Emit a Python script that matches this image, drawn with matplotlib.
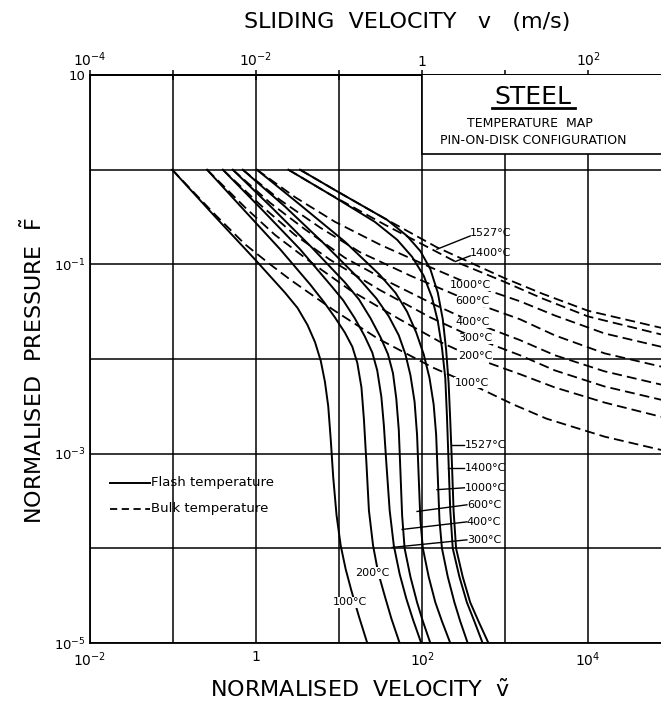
import numpy as np
import matplotlib.pyplot as plt
from matplotlib.patches import Rectangle
from matplotlib.ticker import NullLocator, FixedLocator, FixedFormatter

# values, as (log10 v~, log10 F~) pairs
temps = [100, 200, 300, 400, 600, 1000, 1400, 1527]

flash_100 = [(-1.01, 0.0), (-0.51, -0.48), (0.0, -0.96), (0.35, -1.30), (0.50, -1.46),
             (0.62, -1.64), (0.71, -1.82), (0.78, -2.02), (0.83, -2.24), (0.87, -2.50),
             (0.90, -2.85), (0.93, -3.25), (0.97, -3.65), (1.02, -3.97), (1.08, -4.22),
             (1.15, -4.45), (1.24, -4.72), (1.34, -5.0)]
flash_200 = [(-0.59, 0.0), (-0.13, -0.44), (0.29, -0.84), (0.65, -1.21), (0.82, -1.40),
             (0.95, -1.56), (1.07, -1.72), (1.16, -1.87), (1.22, -2.04), (1.27, -2.30),
             (1.30, -2.64), (1.33, -3.10), (1.36, -3.60), (1.41, -3.97), (1.47, -4.25),
             (1.55, -4.50), (1.63, -4.74), (1.73, -5.0)]
flash_300 = [(-0.40, 0.0), (0.07, -0.42), (0.53, -0.84), (0.89, -1.21), (1.05, -1.38),
             (1.19, -1.57), (1.31, -1.76), (1.40, -1.93), (1.46, -2.12), (1.51, -2.40),
             (1.54, -2.70), (1.57, -3.10), (1.61, -3.60), (1.66, -3.97), (1.73, -4.27),
             (1.81, -4.53), (1.89, -4.75), (1.99, -5.0)]
flash_400 = [(-0.28, 0.0), (0.19, -0.40), (0.67, -0.82), (1.07, -1.19), (1.24, -1.37),
             (1.38, -1.57), (1.50, -1.77), (1.59, -1.95), (1.65, -2.15), (1.69, -2.42),
             (1.72, -2.75), (1.74, -3.20), (1.76, -3.65), (1.79, -4.00), (1.86, -4.30),
             (1.94, -4.57), (2.01, -4.77), (2.10, -5.0)]
flash_600 = [(-0.16, 0.0), (0.35, -0.39), (0.83, -0.79), (1.25, -1.16), (1.45, -1.36),
             (1.60, -1.55), (1.72, -1.75), (1.80, -1.95), (1.86, -2.17), (1.91, -2.45),
             (1.94, -2.80), (1.96, -3.25), (1.98, -3.70), (2.01, -4.00), (2.08, -4.30),
             (2.16, -4.57), (2.24, -4.77), (2.34, -5.0)]
flash_1000 = [(0.01, 0.0), (0.53, -0.37), (1.07, -0.76), (1.49, -1.11), (1.68, -1.30),
              (1.82, -1.50), (1.93, -1.72), (2.02, -1.95), (2.09, -2.20), (2.14, -2.48),
              (2.17, -2.80), (2.19, -3.25), (2.21, -3.70), (2.24, -4.00), (2.31, -4.30),
              (2.39, -4.57), (2.46, -4.77), (2.55, -5.0)]
flash_1400 = [(0.39, 0.0), (0.89, -0.26), (1.43, -0.55), (1.70, -0.74), (1.88, -0.92),
              (2.02, -1.12), (2.12, -1.35), (2.19, -1.60), (2.24, -1.88), (2.28, -2.20),
              (2.30, -2.60), (2.32, -3.10), (2.34, -3.60), (2.37, -4.00), (2.45, -4.30),
              (2.54, -4.57), (2.63, -4.77), (2.73, -5.0)]
flash_1527 = [(0.53, 0.0), (0.98, -0.23), (1.58, -0.53), (1.82, -0.70), (1.98, -0.86),
              (2.10, -1.05), (2.19, -1.30), (2.25, -1.58), (2.29, -1.90), (2.32, -2.25),
              (2.34, -2.65), (2.36, -3.10), (2.38, -3.60), (2.41, -4.00), (2.49, -4.30),
              (2.58, -4.57), (2.68, -4.77), (2.80, -5.0)]

bulk_100 = [(-1.01, 0.0), (-0.51, -0.46), (-0.13, -0.79), (0.17, -1.00), (0.41, -1.16),
            (0.93, -1.48), (1.46, -1.78), (2.13, -2.09), (2.60, -2.27), (3.10, -2.48),
            (3.50, -2.63), (4.20, -2.82), (4.88, -2.96)]
bulk_200 = [(-0.59, 0.0), (-0.13, -0.40), (0.23, -0.69), (0.65, -0.97), (1.13, -1.27),
            (1.73, -1.58), (2.22, -1.82), (2.64, -1.99), (3.18, -2.16), (3.60, -2.30),
            (4.20, -2.46), (4.88, -2.61)]
bulk_300 = [(-0.40, 0.0), (0.05, -0.37), (0.47, -0.69), (0.89, -0.95), (1.49, -1.27),
            (2.10, -1.56), (2.64, -1.78), (3.18, -1.96), (3.60, -2.12), (4.20, -2.29),
            (4.88, -2.43)]
bulk_400 = [(-0.28, 0.0), (0.17, -0.35), (0.59, -0.63), (1.07, -0.93), (1.61, -1.19),
            (2.16, -1.43), (2.61, -1.61), (3.18, -1.80), (3.60, -1.96), (4.20, -2.13),
            (4.88, -2.27)]
bulk_600 = [(-0.16, 0.0), (0.29, -0.32), (0.77, -0.61), (1.25, -0.87), (1.86, -1.12),
            (2.61, -1.40), (3.18, -1.58), (3.60, -1.75), (4.20, -1.94), (4.88, -2.08)]
bulk_1000 = [(0.01, 0.0), (0.47, -0.29), (0.95, -0.55), (1.49, -0.79), (2.10, -1.03),
             (2.58, -1.21), (3.18, -1.39), (3.60, -1.54), (4.20, -1.73), (4.88, -1.87)]
bulk_1400 = [(0.39, 0.0), (0.89, -0.26), (1.55, -0.58), (2.40, -0.97), (2.98, -1.18),
             (3.45, -1.36), (4.00, -1.55), (4.88, -1.74)]
bulk_1527 = [(0.53, 0.0), (0.98, -0.23), (1.58, -0.53), (2.18, -0.82), (2.98, -1.14),
             (3.45, -1.31), (4.00, -1.49), (4.88, -1.67)]

x_decades = [-2, -1, 0, 1, 2, 3, 4, 5]
x_labels = ["$10^{-2}$", "", "1", "", "$10^{2}$", "", "$10^{4}$", ""]
v_decades = [-4, -3, -2, -1, 0, 1, 2, 3]
v_labels = ["$10^{-4}$", "", "$10^{-2}$", "", "1", "", "$10^{2}$", ""]
y_decades = [-5, -4, -3, -2, -1, 0, 1]
y_labels = ["$10^{-5}$", "", "$10^{-3}$", "", "$10^{-1}$", "", "10"]

flash = [flash_100, flash_200, flash_300, flash_400, flash_600, flash_1000, flash_1400, flash_1527]
bulk = [bulk_100, bulk_200, bulk_300, bulk_400, bulk_600, bulk_1000, bulk_1400, bulk_1527]

plt.rcParams['font.family'] = 'DejaVu Sans'
plt.rcParams['mathtext.fontset'] = 'dejavusans'

fig = plt.figure(figsize=(6.61, 7.04), dpi=100)
ax = fig.add_axes([0.1362, 0.0866, 0.879, 0.8068])
ax.set_xscale('log')
ax.set_yscale('log')
ax.set_xlim(1e-2, 1e5)
ax.set_ylim(1e-5, 1e1)

dash = (0, (5.5, 2.8))
for pts in flash:
    lv, lf = np.array(pts).T
    ax.plot(10**lv, 10**lf, color='k', lw=1.4, zorder=2)
for pts in bulk:
    lv, lf = np.array(pts).T
    ax.plot(10**lv, 10**lf, color='k', lw=1.3, linestyle=dash, zorder=2)

# grid and ticks
ax.xaxis.set_major_locator(FixedLocator([10.0**d for d in x_decades]))
ax.xaxis.set_major_formatter(FixedFormatter(x_labels))
ax.yaxis.set_major_locator(FixedLocator([10.0**d for d in y_decades]))
ax.yaxis.set_major_formatter(FixedFormatter(y_labels))
ax.xaxis.set_minor_locator(NullLocator())
ax.yaxis.set_minor_locator(NullLocator())
ax.tick_params(axis='x', length=0, labelsize=10, pad=5)
ax.tick_params(axis='y', length=0, labelsize=9.5, pad=3)
ax.grid(True, color='k', lw=1.1)
ax.set_axisbelow(True)
for s in ax.spines.values():
    s.set_linewidth(1.3)

sec = ax.secondary_xaxis('top', functions=(lambda x: x / 100.0, lambda v: v * 100.0))
sec.xaxis.set_major_locator(FixedLocator([10.0**d for d in v_decades]))
sec.xaxis.set_major_formatter(FixedFormatter(v_labels))
sec.xaxis.set_minor_locator(NullLocator())
sec.tick_params(direction='inout', length=7, width=1.1, labelsize=10, pad=1)
sec.spines['top'].set_linewidth(1.3)

# title box, top right
ax.add_patch(Rectangle((100, 1.47), 1e6, 20, facecolor='white', edgecolor='k',
                       lw=1.2, zorder=3))
ax.text(0.762, 0.961, "STEEL", transform=ax.transAxes, ha='center', va='center',
        fontsize=18, zorder=4)
ax.plot([0.692, 0.835], [0.942, 0.942], transform=ax.transAxes, color='k', lw=2, zorder=4)
ax.text(0.757, 0.915, "TEMPERATURE  MAP", transform=ax.transAxes, ha='center',
        va='center', fontsize=9, zorder=4)
ax.text(0.762, 0.884, "PIN-ON-DISK CONFIGURATION", transform=ax.transAxes,
        ha='center', va='center', fontsize=9, zorder=4)

# legend
ax.plot([0.034, 0.103], [0.282, 0.282], transform=ax.transAxes, color='k', lw=1.4)
ax.text(0.105, 0.282, "Flash temperature", transform=ax.transAxes, va='center', fontsize=9.5)
ax.plot([0.034, 0.103], [0.236, 0.236], transform=ax.transAxes, color='k', lw=1.3,
        linestyle=(0, (4, 2.5)))
ax.text(0.105, 0.236, "Bulk temperature", transform=ax.transAxes, va='center', fontsize=9.5)

box = dict(facecolor='white', edgecolor='none', pad=0.4)
lab = lambda t: f"{t}°C"

# bulk labels sitting on the dashed curves
bulk_lab_pos = {1000: (2.58, -1.22), 600: (2.61, -1.39), 400: (2.61, -1.61),
                300: (2.64, -1.78), 200: (2.64, -1.97), 100: (2.60, -2.25)}
for t, (lx, ly) in bulk_lab_pos.items():
    ax.text(10**lx, 10**ly, lab(t), ha='center', va='center', fontsize=8,
            bbox=box, zorder=4)
bulk_leaders = {1527: ((2.18, -0.84), (2.58, -0.67)), 1400: ((2.40, -0.97), (2.58, -0.88))}
for t, ((x0, y0), (x1, y1)) in bulk_leaders.items():
    ax.plot([10**x0, 10**x1], [10**y0, 10**(y1 - 0.03)], color='k', lw=1, zorder=4)
    ax.text(10**x1, 10**y1, lab(t), ha='left', va='center', fontsize=8, zorder=4)

# flash labels with leaders
flash_leaders = {1527: ((2.36, -2.91), (2.51, -2.91)), 1400: ((2.31, -3.15), (2.51, -3.15)),
                 1000: ((2.18, -3.38), (2.51, -3.36)), 600: ((1.94, -3.61), (2.54, -3.54)),
                 400: ((1.76, -3.80), (2.54, -3.72)), 300: ((1.64, -3.99), (2.54, -3.91))}
for t, ((x0, y0), (x1, y1)) in flash_leaders.items():
    ax.plot([10**x0, 10**x1], [10**y0, 10**y1], color='k', lw=1, zorder=4)
    ax.text(10**x1, 10**y1, lab(t), ha='left', va='center', fontsize=8, zorder=4)
flash_lab_pos = {200: (1.40, -4.26), 100: (1.13, -4.57)}
for t, (lx, ly) in flash_lab_pos.items():
    ax.text(10**lx, 10**ly, lab(t), ha='center', va='center', fontsize=8,
            bbox=box, zorder=4)

# axis titles
fig.text(0.616, 0.969, "SLIDING  VELOCITY   v   (m/s)", ha='center', va='center', fontsize=16)
fig.text(0.545, 0.020, r"NORMALISED  VELOCITY  $\mathrm{\tilde{v}}$", ha='center',
         va='center', fontsize=16)
fig.text(0.050, 0.474, r"NORMALISED  PRESSURE  $\mathrm{\tilde{F}}$", ha='center',
         va='center', rotation=90, fontsize=16)

fig.savefig("out.png", dpi=100)
